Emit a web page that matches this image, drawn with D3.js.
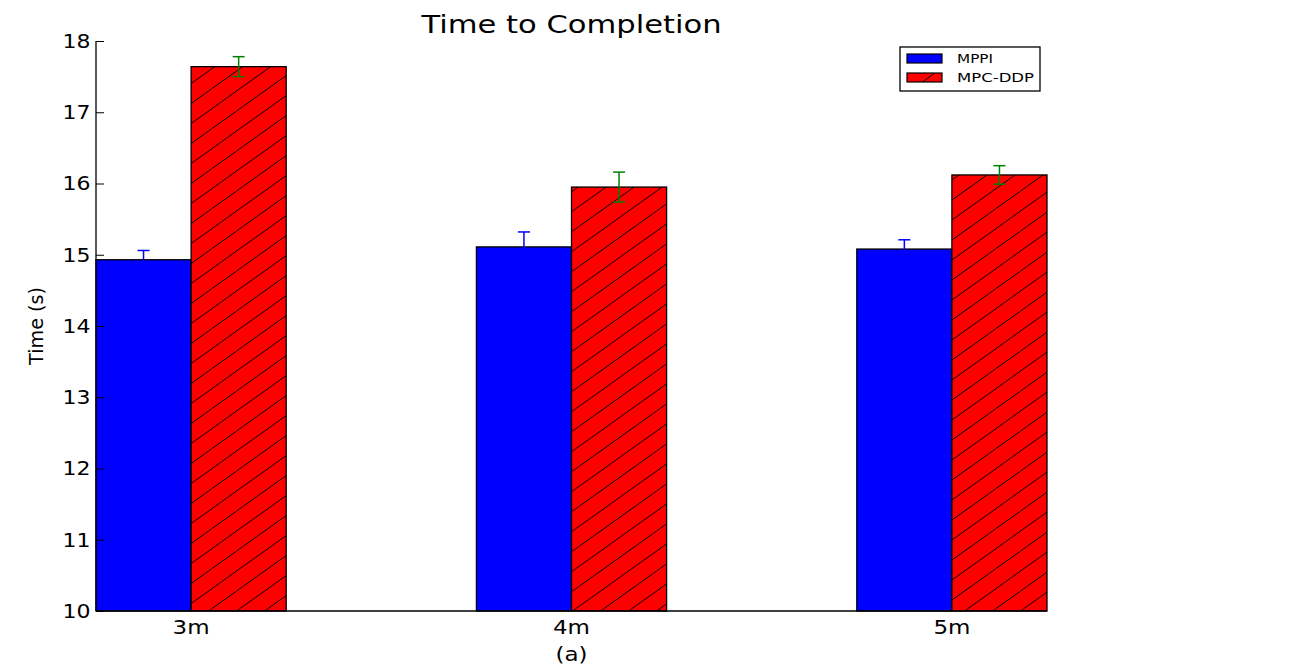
<!DOCTYPE html>
<html>
<head>
<meta charset="utf-8">
<script src="https://cdn.jsdelivr.net/npm/d3@7"></script>
<style>
  body { margin: 0; background: #fff; }
  text { font-family: "DejaVu Sans", sans-serif; fill: #000; }
</style>
</head>
<body>
<div id="chart"></div>
<script>
// Data
const categories = ["3m", "4m", "5m"];
const mppiValues = [14.93, 15.11, 15.08];
const mppiErrors = [0.13, 0.21, 0.13];
const ddpValues = [17.64, 15.95, 16.12];
const ddpErrors = [0.14, 0.21, 0.13];
const yTicks = [10, 11, 12, 13, 14, 15, 16, 17, 18];

const W = 1296, H = 668;
const barW = 0.25;

const svg = d3.select("#chart").append("svg")
    .attr("width", W)
    .attr("height", H);

// hatch pattern for MPC-DDP
const defs = svg.append("defs");
defs.append("pattern")
    .attr("id", "hatch")
    .attr("patternUnits", "userSpaceOnUse")
    .attr("width", 28)
    .attr("height", 20)
  .append("path")
    .attr("d", "M0,20 L28,0 M-28,40 L0,20 M28,0 L56,-20")
    .attr("stroke", "#000")
    .attr("stroke-width", 1);

// scales
const x = d3.scaleLinear().domain([0, 2.5]).range([96, 1047]);
const y = d3.scaleLinear().domain([10, 18]).range([611, 41]);

// bars
const series = [
    { name: "MPPI", values: mppiValues, errors: mppiErrors, offset: 0, fill: "#0000ff", err: "#0000ff" },
    { name: "MPC-DDP", values: ddpValues, errors: ddpErrors, offset: barW, fill: "#ff0000", err: "#008000", hatch: true }
];

series.forEach(s => {
    const g = svg.append("g");
    const data = s.values.map((v, i) => ({ i, v, e: s.errors[i] }));
    g.selectAll("rect.base").data(data).join("rect")
        .attr("x", d => x(d.i + s.offset))
        .attr("y", d => y(d.v))
        .attr("width", d => x(d.i + s.offset + barW) - x(d.i + s.offset))
        .attr("height", d => y(10) - y(d.v))
        .attr("fill", s.fill);
    if (s.hatch) {
        g.selectAll("rect.hatch").data(data).join("rect")
            .attr("x", d => x(d.i + s.offset))
            .attr("y", d => y(d.v))
            .attr("width", d => x(d.i + s.offset + barW) - x(d.i + s.offset))
            .attr("height", d => y(10) - y(d.v))
            .attr("fill", "url(#hatch)");
    }
    g.selectAll("rect.edge").data(data).join("rect")
        .attr("x", d => x(d.i + s.offset))
        .attr("y", d => y(d.v))
        .attr("width", d => x(d.i + s.offset + barW) - x(d.i + s.offset))
        .attr("height", d => y(10) - y(d.v))
        .attr("fill", "none")
        .attr("stroke", "#000")
        .attr("stroke-width", 1.3);
    s.data = data;
});

// error bars drawn on top
series.forEach(s => {
    const g = svg.append("g").attr("stroke", s.err).attr("stroke-width", 1.5).attr("fill", "none");
    s.data.forEach(d => {
        const cx = x(d.i + s.offset + barW / 2);
        g.append("line").attr("x1", cx).attr("x2", cx).attr("y1", y(d.v - d.e)).attr("y2", y(d.v + d.e));
        g.append("line").attr("x1", cx - 6).attr("x2", cx + 6).attr("y1", y(d.v + d.e)).attr("y2", y(d.v + d.e));
        g.append("line").attr("x1", cx - 6).attr("x2", cx + 6).attr("y1", y(d.v - d.e)).attr("y2", y(d.v - d.e));
    });
});

// y axis with inward ticks
const yAxis = svg.append("g")
    .attr("transform", `translate(${x(0)},0)`)
    .call(d3.axisLeft(y).tickValues(yTicks).tickFormat(d3.format("d")).tickSize(-8).tickPadding(5));
yAxis.select(".domain").attr("d", `M0,${y(18)}V${y(10)}`).attr("stroke", "#000").attr("stroke-width", 1.3);
yAxis.selectAll(".tick line").attr("stroke", "#000").attr("stroke-width", 1);
yAxis.selectAll(".tick text")
    .attr("font-size", 20)
    .attr("font-family", "DejaVu Sans, sans-serif")
    .attr("fill", "#000")
    .attr("transform", "scale(1.1,1)");

// bottom spine
svg.append("line")
    .attr("x1", x(0)).attr("x2", x(2.5))
    .attr("y1", y(10)).attr("y2", y(10))
    .attr("stroke", "#000").attr("stroke-width", 1.3);

// x tick labels
svg.selectAll("text.xt").data(categories).join("text")
    .attr("class", "xt")
    .attr("x", (d, i) => x(i + barW))
    .attr("y", 634)
    .attr("text-anchor", "middle")
    .attr("font-size", 20)
    .attr("textLength", 37)
    .attr("lengthAdjust", "spacingAndGlyphs")
    .text(d => d);

// labels
svg.append("text")
    .attr("x", (x(0) + x(2.5)) / 2)
    .attr("y", 661)
    .attr("text-anchor", "middle")
    .attr("font-size", 20)
    .attr("textLength", 32)
    .attr("lengthAdjust", "spacingAndGlyphs")
    .text("(a)");

svg.append("text")
    .attr("transform", `translate(43,326) rotate(-90)`)
    .attr("text-anchor", "middle")
    .attr("font-size", 20)
    .attr("textLength", 78)
    .attr("lengthAdjust", "spacingAndGlyphs")
    .text("Time (s)");

svg.append("text")
    .attr("x", (x(0) + x(2.5)) / 2)
    .attr("y", 33)
    .attr("text-anchor", "middle")
    .attr("font-size", 24)
    .attr("textLength", 300)
    .attr("lengthAdjust", "spacingAndGlyphs")
    .text("Time to Completion");

// legend
const legend = svg.append("g").attr("transform", "translate(900,47)");
legend.append("rect")
    .attr("width", 140).attr("height", 44)
    .attr("fill", "#fff").attr("stroke", "#000").attr("stroke-width", 1.3);
const legendWidths = [36, 77];
series.forEach((s, i) => {
    const row = legend.append("g").attr("transform", `translate(7,${7 + i * 19})`);
    row.append("rect").attr("width", 35).attr("height", 9).attr("fill", s.fill);
    if (s.hatch) row.append("rect").attr("width", 35).attr("height", 9).attr("fill", "url(#hatch)");
    row.append("rect").attr("width", 35).attr("height", 9)
        .attr("fill", "none").attr("stroke", "#000").attr("stroke-width", 1.2);
    row.append("text")
        .attr("x", 50).attr("y", 9)
        .attr("font-size", 12)
        .attr("textLength", legendWidths[i])
        .attr("lengthAdjust", "spacingAndGlyphs")
        .text(s.name);
});
</script>
</body>
</html>
